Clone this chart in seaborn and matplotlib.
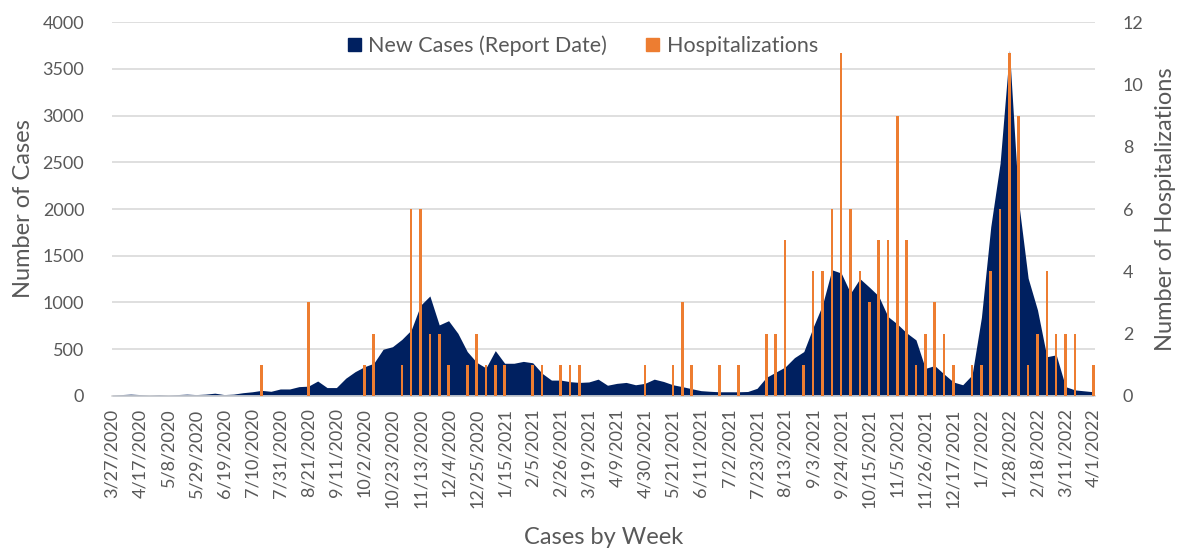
"""
Weekly new cases (area) and hospitalizations (bars), two y axes.
"""

import matplotlib
matplotlib.use("Agg")
import matplotlib.pyplot as plt
import seaborn as sns
import pandas as pd
from matplotlib.patches import Patch

# --- data, one value per week from 3/27/2020 ---
weeks = list(range(106))

new_cases = [
    10, 15, 20, 15, 10, 15, 10, 15, 20, 15,
    20, 30, 15, 20, 35, 45, 60, 50, 75, 75, 100, 105,
    160, 90, 90, 190, 260, 313, 350, 500, 527, 605,
    705, 970, 1070, 760, 805, 670, 475, 360, 300, 485,
    350, 350, 370, 355, 243, 170, 170, 153, 145, 150,
    180, 115, 135, 145, 120, 135, 180, 155, 120, 100,
    78, 57, 50, 45, 45, 45, 48, 82, 200, 255,
    310, 410, 475, 735, 975, 1350, 1315, 1100, 1255, 1165,
    1070, 850, 770, 675, 600, 295, 325, 235, 150, 120,
    225, 840, 1810, 2490, 3700, 2060, 1260, 920, 420, 440,
    100, 65, 55, 45,
]

hospitalizations = [
    0, 0, 0, 0, 0, 0, 0, 0, 0, 0,
    0, 0, 0, 0, 0, 0, 1, 0, 0, 0,
    0, 3, 0, 0, 0, 0, 0, 1, 2, 0,
    0, 1, 6, 6, 2, 2, 1, 0, 1, 2,
    1, 1, 1, 0, 0, 1, 1, 0, 1, 1,
    1, 0, 0, 0, 0, 0, 0, 1, 0, 0,
    1, 3, 1, 0, 0, 1, 0, 1, 0, 0,
    2, 2, 5, 0, 1, 4, 4, 6, 11, 6,
    4, 3, 5, 5, 9, 5, 1, 2, 3, 2,
    1, 0, 1, 1, 4, 6, 11, 9, 1, 2,
    4, 2, 2, 2, 0, 1,
]

week_dates = pd.date_range("2020-03-27", periods=len(weeks), freq="7D")
tick_weeks = weeks[::3]
tick_labels = [f"{d.month}/{d.day}/{d.year}" for d in week_dates[::3]]

case_ticks = list(range(0, 4001, 500))
hosp_ticks = list(range(0, 13, 2))

NAVY = "#002060"
ORANGE = "#ED7D31"
TEXT = "#595959"
GRID = "#D9D9D9"

sns.set_theme(style="white")
plt.rcParams["font.family"] = ["Lato", "DejaVu Sans"]

fig = plt.figure(figsize=(11.83, 5.56), dpi=100)
ax = fig.add_axes([0.0947, 0.2878, 0.8309, 0.6726])
ax2 = ax.twinx()

# area for new cases
ax.fill_between(weeks, new_cases, 0, color=NAVY, linewidth=0, zorder=2)

# thin bars for hospitalizations on the right axis
sns.barplot(x=weeks, y=hospitalizations, native_scale=True, width=0.28,
            color=ORANGE, saturation=1, errorbar=None, linewidth=0,
            edgecolor=ORANGE, ax=ax2, zorder=3)

ax.set_xlim(0, 105.15)
ax.set_ylim(0, 4000)
ax2.set_ylim(0, 12)
ax.set_yticks(case_ticks)
ax2.set_yticks(hosp_ticks)
ax.set_xticks(tick_weeks)
ax.set_xticklabels(tick_labels, rotation=90)

ax.grid(axis="y", color=GRID, linewidth=1.2, zorder=0)
ax.grid(axis="x", visible=False)
ax.set_axisbelow(True)
ax2.grid(False)

for a in (ax, ax2):
    for side in ("top", "left", "right", "bottom"):
        a.spines[side].set_visible(False)
ax.spines["bottom"].set_visible(True)
ax.spines["bottom"].set_color(GRID)
ax.spines["bottom"].set_linewidth(1.2)

ax.tick_params(axis="y", length=0, pad=20, labelsize=13, labelcolor=TEXT)
ax2.tick_params(axis="y", length=0, pad=20, labelsize=13, labelcolor=TEXT)
ax.tick_params(axis="x", length=0, pad=9, labelsize=13, labelcolor=TEXT)

ax.set_xlabel("Cases by Week", fontsize=17, color=TEXT, labelpad=14)
ax.set_ylabel("Number of Cases", fontsize=17, color=TEXT, labelpad=6)
ax2.set_ylabel("Number of Hospitalizations", fontsize=17, color=TEXT, labelpad=8)

handles = [Patch(color=NAVY, label="New Cases (Report Date)"),
           Patch(color=ORANGE, label="Hospitalizations")]
leg = ax2.legend(handles=handles, loc="center", bbox_to_anchor=(0.479, 0.936),
                 ncol=2, frameon=False, fontsize=15.5, handlelength=0.6,
                 handleheight=0.6, handletextpad=0.35, columnspacing=1.8)
for t in leg.get_texts():
    t.set_color(TEXT)

fig.savefig("out.png", dpi=100)
plt.close(fig)
